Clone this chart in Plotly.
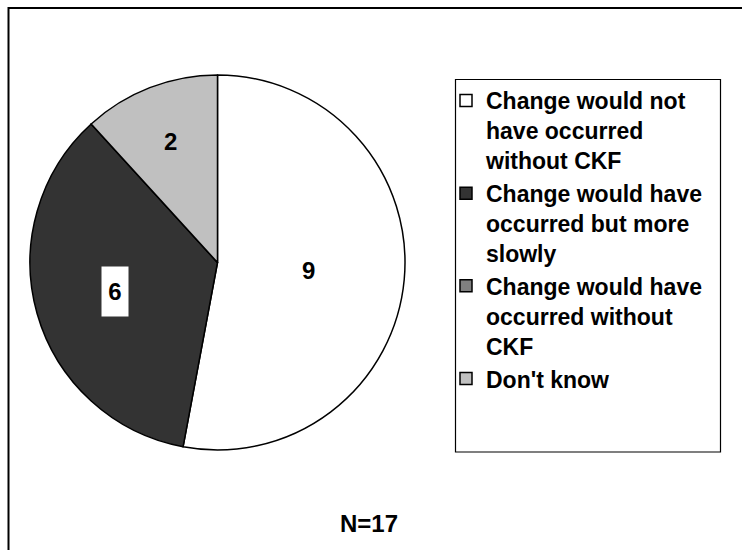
import math
import plotly.graph_objects as go

W, H = 751, 550

labels = [
    "Change would not<br>have occurred<br>without CKF",
    "Change would have<br>occurred but more<br>slowly",
    "Change would have<br>occurred without<br>CKF",
    "Don't know",
]
values = [9, 6, 0, 2]
colors = ["#FFFFFF", "#333333", "#808080", "#C0C0C0"]
note_text = "N=17"

# style: label distance from centre as fraction of radius, per slice
label_r = [0.49, 0.57, 0.0, 0.69]
label_box = [False, True, False, False]

FONT = "Liberation Sans, Arial, sans-serif"

def px(x):
    return x / W

def py(y):
    return 1 - y / H

pie_left, pie_right, pie_top, pie_bottom = 22, 413, 75, 450
dom_x = [px(pie_left), px(pie_right)]
dom_y = [py(pie_bottom), py(pie_top)]

fig = go.Figure(go.Pie(
    labels=labels,
    values=values,
    sort=False,
    direction="clockwise",
    rotation=0,
    marker=dict(colors=colors, line=dict(color="#000000", width=1.5)),
    textinfo="none",
    hoverinfo="label+value",
    domain=dict(x=dom_x, y=dom_y),
    showlegend=True,
))

# data labels placed at the mid-angle of each slice
cx = (pie_left + pie_right) / 2
cy = (pie_top + pie_bottom) / 2
r = min(pie_right - pie_left, pie_bottom - pie_top) / 2
total = sum(values)
cum = 0
annotations = []
for v, f, boxed in zip(values, label_r, label_box):
    if v > 0:
        mid = (cum + v / 2) / total * 2 * math.pi
        x = cx + f * r * math.sin(mid)
        y = cy - f * r * math.cos(mid)
        ann = dict(
            x=px(x), y=py(y), xref="paper", yref="paper",
            text=str(v), showarrow=False,
            font=dict(family=FONT, size=24, color="#000000", weight="bold"),
            xanchor="center", yanchor="middle",
        )
        if boxed:
            ann.update(bgcolor="#FFFFFF", width=26, height=49, borderpad=0)
        annotations.append(ann)
    cum += v

annotations.append(dict(
    x=px(369), y=py(523), xref="paper", yref="paper",
    text=note_text, showarrow=False,
    font=dict(family=FONT, size=24, color="#000000", weight="bold"),
    xanchor="center", yanchor="middle",
))

shapes = [
    # legend frame
    dict(type="rect", xref="paper", yref="paper",
         x0=px(455.5), x1=px(720.5), y0=py(452), y1=py(79.5),
         line=dict(color="#000000", width=1.2), fillcolor="rgba(0,0,0,0)"),
    # outer chart frame (top and left edges visible)
    dict(type="line", xref="paper", yref="paper",
         x0=px(8), x1=px(742), y0=py(8), y1=py(8),
         line=dict(color="#000000", width=2)),
    dict(type="line", xref="paper", yref="paper",
         x0=px(8.5), x1=px(8.5), y0=py(7), y1=py(552),
         line=dict(color="#000000", width=2)),
]

fig.update_layout(
    width=W, height=H,
    margin=dict(l=0, r=0, t=0, b=0),
    paper_bgcolor="#FFFFFF",
    plot_bgcolor="#FFFFFF",
    font=dict(family=FONT, color="#000000"),
    legend=dict(
        x=px(446), y=py(79), xanchor="left", yanchor="top",
        font=dict(family=FONT, size=23, color="#000000", weight="bold"),
        bgcolor="rgba(0,0,0,0)", borderwidth=0,
        valign="top", traceorder="normal",
        itemclick=False, itemdoubleclick=False,
    ),
    annotations=annotations,
    shapes=shapes,
)

fig.write_html("out.html")
